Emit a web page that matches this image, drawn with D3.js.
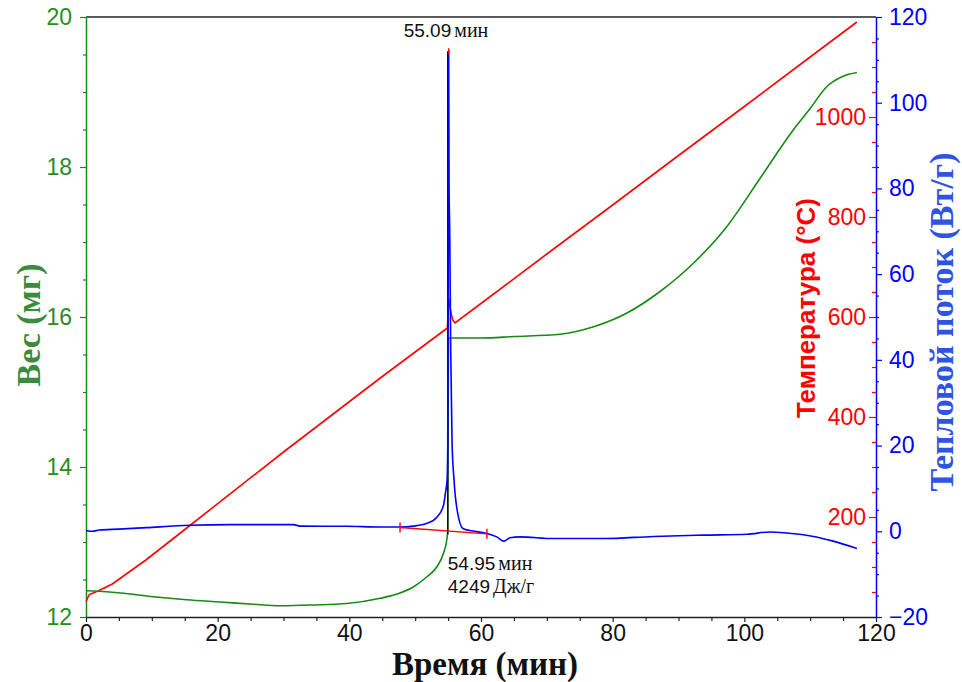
<!DOCTYPE html>
<html>
<head>
<meta charset="utf-8">
<script src="https://cdn.jsdelivr.net/npm/d3@7"></script>
<style>
    body { margin: 0; background: #fff; }
</style>
</head>
<body>
<div id="chart"></div>
<script>
// values

// weight (mg) vs time (min)
const weightTime = [0, 0.1, 5.2, 10.2, 15.3, 20.4, 25.4, 29.5, 34.5, 39.6, 44.7, 47.7, 49.7, 51.7, 53.3, 54.3, 54.8, 54.95, 55.05, 55.1, 60, 65, 72, 77.1, 82.1, 87.2, 92.3, 97.3, 102.4, 107.4, 110, 112.5, 115, 117.1];
const weightMg = [12.35, 12.35, 12.32, 12.27, 12.23, 12.20, 12.17, 12.15, 12.16, 12.18, 12.25, 12.32, 12.40, 12.53, 12.67, 12.85, 13.03, 13.15, 15.6, 15.72, 15.72, 15.74, 15.77, 15.87, 16.05, 16.34, 16.72, 17.20, 17.85, 18.49, 18.78, 19.07, 19.21, 19.26];

// temperature (°C) vs time (min)
const tempTime = [0, 0.5, 2, 4, 9.2, 15.3, 30, 45, 54.9, 55.0, 55.09, 55.4, 55.7, 56.05, 60, 70, 80, 90, 100, 110, 117.1];
const tempC = [31, 45, 53, 66, 115, 178, 330, 481, 578, 612, 637, 611, 594, 588, 627, 726, 824, 923, 1021, 1120, 1190];

// heat flow (W/g) vs time (min)
const flowTime = [0, 1, 2, 5, 9.2, 15.8, 21.9, 31.5, 32.5, 39.6, 44.7, 47.7, 49.7, 51.7, 53.3, 54.3, 54.6, 54.85, 54.95, 55.05, 55.09, 55.15, 55.25, 55.4, 55.6, 55.9, 56.3, 57.3, 59, 60.9, 62.4, 63.5, 64.4, 65.9, 71, 78.6, 86.2, 93.8, 100.4, 103.9, 106.4, 110.5, 113.5, 117.1];
const flowWg = [0.2, 0.0, 0.3, 0.5, 0.86, 1.4, 1.56, 1.56, 1.2, 1.17, 1.0, 1.0, 1.2, 1.8, 3.3, 6, 9, 12, 20, 80, 112, 80, 70, 42, 21, 12, 5.7, 0.6, 0, -0.5, -1.3, -2.3, -1.5, -1.3, -1.7, -1.7, -1.2, -0.9, -0.7, -0.15, -0.4, -1.2, -2.3, -4.0];

// tick labels
const timeTicks = [0, 20, 40, 60, 80, 100, 120];
const weightTicks = [12, 14, 16, 18, 20];
const tempTicks = [200, 400, 600, 800, 1000];
const flowTicks = [-20, 0, 20, 40, 60, 80, 100, 120];

// peak annotation
const peakTime = 55.09, peakFlow = 112;
const onsetTime = 54.95, onsetWeight = 13.1;
const baseStart = [47.7, 0.9], baseEnd = [60.9, -0.6];
const enthalpy = 4249;

const width = 962, height = 682;
const margin = { top: 17, right: 86, bottom: 65, left: 86 };

const green = "#158a15", greenText = "#2a8c1e", greenTitle = "#3c8a3c";
const red = "#ff0000", blue = "#0000ff", blueTitle = "#2f55e0";
const sans = "Arial, 'Liberation Sans', sans-serif";
const serif = "'Times New Roman', 'Liberation Serif', serif";

const svg = d3.select("#chart")
    .append("svg")
    .attr("width", width)
    .attr("height", height);

// scales
const x = d3.scaleLinear().domain([0, 120]).range([margin.left, width - margin.right]);
const yW = d3.scaleLinear().domain([12, 20]).range([height - margin.bottom, margin.top]);
const yT = d3.scaleLinear().domain([0, 1200]).range([height - margin.bottom, margin.top]);
const yF = d3.scaleLinear().domain([-20, 120]).range([height - margin.bottom, margin.top]);

function styleAxis(g, color, textColor) {
    g.select(".domain").attr("stroke", color).attr("stroke-width", 1.5);
    g.selectAll(".tick line").attr("stroke", color).attr("stroke-width", 1.2);
    g.selectAll(".tick text")
        .attr("fill", textColor || color)
        .style("font-family", sans)
        .style("font-size", "23px");
}

// minor ticks (no labels)
function minor(axisFn, scale, values, size, tx, ty, color) {
    svg.append("g")
        .attr("transform", `translate(${tx}, ${ty})`)
        .call(axisFn(scale).tickValues(values).tickSize(size).tickFormat(""))
        .call(g => g.select(".domain").remove())
        .call(g => g.selectAll(".tick line").attr("stroke", color).attr("stroke-width", 1.2));
}

const x0 = margin.left, x1 = width - margin.right;
const yBottom = height - margin.bottom, yTop = margin.top;
const fmt = d3.format("d");

// top frame
svg.append("line")
    .attr("x1", x0).attr("x2", x1)
    .attr("y1", yTop).attr("y2", yTop)
    .attr("stroke", "#222").attr("stroke-width", 1.5);

// bottom axis
minor(d3.axisBottom, x, d3.range(5, 120, 5).filter(d => d % 20 !== 0), 4, 0, yBottom, "#222");
svg.append("g")
    .attr("transform", `translate(0, ${yBottom})`)
    .call(d3.axisBottom(x).tickValues(timeTicks).tickFormat(fmt).tickSize(5).tickSizeOuter(0).tickPadding(3))
    .call(g => styleAxis(g, "#222", "#111"));

// left weight axis
minor(d3.axisLeft, yW, d3.range(12.5, 20, 0.5).filter(d => d % 2 !== 0), 3, x0, 0, green);
svg.append("g")
    .attr("transform", `translate(${x0}, 0)`)
    .call(d3.axisLeft(yW).tickValues(weightTicks).tickFormat(fmt).tickSize(6).tickSizeOuter(0).tickPadding(8))
    .call(g => styleAxis(g, green, greenText));

// temperature ticks sit inside the right axis
minor(d3.axisLeft, yT, d3.range(50, 1200, 50).filter(d => d % 200 !== 0), 4, x1, 0, red);
svg.append("g")
    .attr("transform", `translate(${x1}, 0)`)
    .call(d3.axisLeft(yT).tickValues(tempTicks).tickFormat(fmt).tickSize(7).tickPadding(3))
    .call(g => g.select(".domain").remove())
    .call(g => styleAxis(g, red));

// heat flow axis on the right
minor(d3.axisRight, yF, d3.range(-15, 120, 5).filter(d => d % 20 !== 0), 3, x1, 0, blue);
svg.append("g")
    .attr("transform", `translate(${x1}, 0)`)
    .call(d3.axisRight(yF).tickValues(flowTicks).tickFormat(fmt).tickSize(6).tickSizeOuter(0).tickPadding(7))
    .call(g => styleAxis(g, blue));

// curves (temperature is a straight ramp, keep it linear)
const tempLine = d3.line().x((d, i) => x(tempTime[i])).y(d => yT(d));
const weightLine = d3.line().curve(d3.curveMonotoneX).x((d, i) => x(weightTime[i])).y(d => yW(d));
const flowLine = d3.line().curve(d3.curveMonotoneX).x((d, i) => x(flowTime[i])).y(d => yF(d));

svg.append("path")
    .datum(tempC)
    .attr("fill", "none")
    .attr("stroke", red)
    .attr("stroke-width", 1.6)
    .attr("d", tempLine);

svg.append("path")
    .datum(weightMg)
    .attr("fill", "none")
    .attr("stroke", green)
    .attr("stroke-width", 1.6)
    .attr("d", weightLine);

// onset marker line
svg.append("line")
    .attr("x1", x(onsetTime)).attr("x2", x(onsetTime))
    .attr("y1", yF(peakFlow)).attr("y2", yW(onsetWeight))
    .attr("stroke", "#111").attr("stroke-width", 1.5);

svg.append("path")
    .datum(flowWg)
    .attr("fill", "none")
    .attr("stroke", blue)
    .attr("stroke-width", 1.6)
    .attr("d", flowLine);

// integration baseline with end markers
svg.append("line")
    .attr("x1", x(baseStart[0])).attr("y1", yF(baseStart[1]))
    .attr("x2", x(baseEnd[0])).attr("y2", yF(baseEnd[1]))
    .attr("stroke", red).attr("stroke-width", 1.4);

[baseStart, baseEnd].forEach(p => {
    svg.append("line")
        .attr("x1", x(p[0])).attr("x2", x(p[0]))
        .attr("y1", yF(p[1]) - 5).attr("y2", yF(p[1]) + 5)
        .attr("stroke", red).attr("stroke-width", 1.4);
});

// peak tip marker
svg.append("line")
    .attr("x1", x(peakTime)).attr("x2", x(peakTime))
    .attr("y1", yF(peakFlow) - 3).attr("y2", yF(peakFlow) + 3)
    .attr("stroke", red).attr("stroke-width", 1.5);

// annotation texts
function label(px, py, num, unit) {
    const t = svg.append("text")
        .attr("x", px).attr("y", py)
        .attr("fill", "#111");
    t.append("tspan").style("font-family", sans).style("font-size", "19px").text(num);
    t.append("tspan").attr("dx", 3).style("font-family", serif).style("font-size", "20px").text(unit);
}
label(x(peakTime) - 45, 37, peakTime.toFixed(2), "мин");
label(x(onsetTime), 570, onsetTime.toFixed(2), "мин");
label(x(onsetTime), 593, enthalpy, "Дж/г");

// axis titles
svg.append("text")
    .attr("transform", `translate(40, 325) rotate(-90)`)
    .attr("text-anchor", "middle")
    .style("font-family", serif)
    .style("font-weight", "bold")
    .style("font-size", "34px")
    .attr("fill", greenTitle)
    .text("Вес (мг)");

svg.append("text")
    .attr("x", 485).attr("y", 675)
    .attr("text-anchor", "middle")
    .style("font-family", serif)
    .style("font-weight", "bold")
    .style("font-size", "33px")
    .attr("fill", "#111")
    .text("Время (мин)");

svg.append("text")
    .attr("transform", `translate(815, 308) rotate(-90)`)
    .attr("text-anchor", "middle")
    .style("font-family", sans)
    .style("font-weight", "bold")
    .style("font-size", "26px")
    .attr("fill", red)
    .text("Температура (°C)");

svg.append("text")
    .attr("transform", `translate(953, 322) rotate(-90)`)
    .attr("text-anchor", "middle")
    .style("font-family", serif)
    .style("font-weight", "bold")
    .style("font-size", "34px")
    .attr("fill", blueTitle)
    .text("Тепловой поток (Вт/г)");
</script>
</body>
</html>
